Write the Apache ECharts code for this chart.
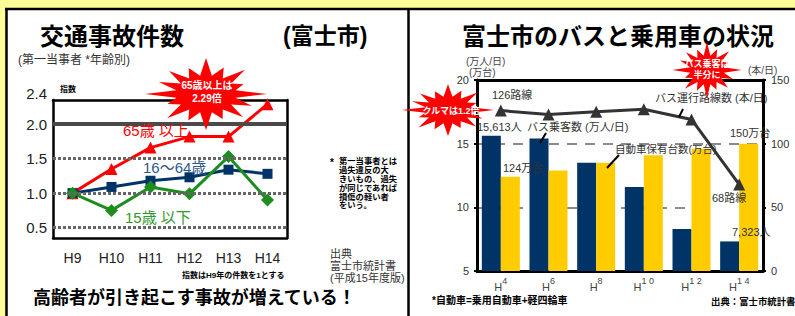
<!DOCTYPE html>
<html>
<head>
<meta charset="utf-8">
<script src="https://cdn.jsdelivr.net/npm/echarts@6.0.0/dist/echarts.min.js"></script>
<style>
html,body{margin:0;padding:0;background:#FFFF99;}
#main{width:795px;height:316px;}
</style>
</head>
<body>
<div id="main"></div>
<script>
var FONT = "'Liberation Sans','Noto Sans CJK JP',sans-serif";

// 交通事故件数 指数 (H9 = 1)
var accYears = ['H9', 'H10', 'H11', 'H12', 'H13', 'H14'];
var over65 = [1.0, 1.35, 1.66, 1.82, 1.82, 2.29];
var age16to64 = [1.0, 1.09, 1.18, 1.23, 1.34, 1.28];
var under15 = [1.0, 0.75, 1.09, 0.99, 1.53, 0.90];
var idxLines = [0.5, 1.0, 1.5, 2.0];

// バスと乗用車
var busYears = ['H4', 'H6', 'H8', 'H10', 'H12', 'H14'];
var busRiders = [15.613, 15.4, 13.5, 11.6, 8.3, 7.323];  // 万人/日
var carCount = [12.4, 12.9, 13.5, 14.1, 14.6, 15.0];     // 10万台
var busRoutes = [126, 123, 125, 127, 119, 68];           // 本/日

function label(x, y, s, size, color, bold, align) {
    return {
        type: 'text', x: x, y: y, z: 50,
        style: {
            text: s, fontSize: size, fontFamily: FONT, fill: color,
            fontWeight: bold ? 'bold' : 'normal',
            textAlign: align || 'left', textVerticalAlign: 'middle'
        }
    };
}

function block(x, y, s, size, color, bold, lh) {
    var t = label(x, y, s, size, color, bold);
    t.style.textVerticalAlign = 'top';
    t.style.lineHeight = lh;
    return t;
}

function line(x1, y1, x2, y2, w, c) {
    return {type: 'line', z: 50, shape: {x1: x1, y1: y1, x2: x2, y2: y2}, style: {stroke: c || '#000', lineWidth: w}};
}

//ギザギザ吹き出し
function burst(cx, cy, rx, ry) {
    var k = [1, 0.8, 0.95, 0.7, 1.05, 0.85, 0.9, 0.75, 1, 0.8, 0.95, 0.72, 1.05, 0.88, 0.9, 0.78];
    var pts = [];
    var n = k.length;
    for (var i = 0; i < n; i++) {
        var a = Math.PI * 2 * i / n - Math.PI / 2;
        var b = a + Math.PI / n;
        pts.push([cx + Math.cos(a) * rx * k[i], cy + Math.sin(a) * ry * k[i]]);
        pts.push([cx + Math.cos(b) * rx * 0.52, cy + Math.sin(b) * ry * 0.52]);
    }
    return {type: 'polygon', z: 60, shape: {points: pts}, style: {fill: '#FF0000'}};
}

function white(t) {
    t.z = 61;
    return t;
}

var graphics = [
    {type: 'rect', z: -10, shape: {x: 6, y: 9, width: 789, height: 307}, style: {fill: '#fff'}},
    line(5, 9, 795, 9, 2.5),
    line(6.5, 9, 6.5, 316, 2.5),
    line(408.5, 9, 408.5, 316, 2.5),

    // 左
    label(40, 36, '交通事故件数', 24, '#000', true),
    label(283, 36, '(富士市)', 23, '#000', true),
    label(18, 60, '(第一当事者 *年齢別)', 12, '#333'),
    label(60, 89, '指数', 8, '#000', true),
    label(123, 130, '65歳 以上', 15, '#FF0000'),
    label(143, 167, '16～64歳', 15, '#2F5A8C'),
    label(125, 217, '15歳 以下', 15, '#2E9A2E'),
    label(330, 162, '*', 10, '#000', true),
    block(339, 157, '第一当事者とは\n過失違反の大\nきいもの、過失\nが同じであれば\n損傷の軽い者\nをいう。', 8.3, '#000', true, 8.8),
    block(330, 248, '出典\n富士市統計書\n(平成15年度版)', 11, '#333', false, 12),
    label(182, 275, '指数はH9年の件数を1とする', 8, '#000', true),
    label(33, 298, '高齢者が引き起こす事故が増えている！', 18, '#000', true),
    burst(206, 94, 58, 36),
    white(label(207, 85, '65歳以上は', 10, '#fff', true, 'center')),
    white(label(207, 98, '2.29倍', 10, '#fff', true, 'center')),

    // 右
    label(462, 36, '富士市のバスと乗用車の状況', 24, '#000', true),
    label(466, 61, '(万人/日)', 10, '#444'),
    label(469, 72, '(万台)', 10, '#444'),
    label(748, 70, '(本/日)', 10, '#444'),
    label(492, 95, '126路線', 11, '#333'),
    label(477, 127, '15,613人', 11, '#333'),
    label(527, 127, 'バス乗客数 (万人/日)', 11, '#333'),
    line(546, 133, 540, 143, 2),
    label(503, 168, '124万台', 11, '#333'),
    label(615, 149, '自動車保有台数(万台)', 10.5, '#333'),
    line(619, 155, 607, 168, 2),
    label(655, 98, 'バス運行路線数 (本/日)', 11, '#333'),
    line(683, 109, 679, 117, 2),
    label(730, 133, '150万台', 11, '#333'),
    {type: 'rect', z: 1, shape: {x: 709, y: 189, width: 31, height: 21}, style: {fill: '#fff'}},
    label(712, 198, '68路線', 11, '#333'),
    label(732, 232, '7,323人', 11, '#333'),
    label(432, 300, '*自動車=乗用自動車+軽四輪車', 10, '#000', true),
    label(711, 301, '出典：富士市統計書', 9.4, '#000', true),
    burst(448, 110, 44, 26),
    white(label(451, 111, 'クルマは1.2倍', 9, '#fff', true, 'center')),
    burst(707, 70, 33, 28),
    white(label(707, 64, 'バス乗客は', 9, '#fff', true, 'center')),
    white(label(707, 75, '半分に', 9, '#fff', true, 'center'))
];

var black = {show: true, lineStyle: {color: '#000', width: 2.5}};

var gridMarks = idxLines.map(function (v) {
    if (v == 2.0) {
        return {yAxis: v, lineStyle: {color: '#4a4a4a', width: 4, type: 'solid'}};
    }
    return {yAxis: v, lineStyle: {color: '#666', width: 3, type: [3, 2]}};
});

var option = {
    animation: false,
    backgroundColor: '#FFFF99',
    graphic: graphics,
    grid: [
        {left: 53, right: 508, top: 100, bottom: 78},
        {left: 477, right: 32, top: 80, bottom: 45}
    ],
    xAxis: [
        {
            gridIndex: 0, type: 'category', data: accYears,
            axisLine: black,
            axisTick: {inside: true, length: 4, lineStyle: {color: '#000', width: 2}},
            axisLabel: {fontSize: 14, color: '#222', margin: 13, fontFamily: FONT, interval: 0}
        },
        {gridIndex: 0, type: 'category', position: 'top', data: accYears, axisLine: black, axisTick: {show: false}, axisLabel: {show: false}},
        {
            gridIndex: 1, type: 'category', data: busYears,
            axisLine: {show: true, lineStyle: {color: '#000', width: 3}},
            axisTick: {inside: true, length: 5, lineStyle: {color: '#000', width: 2}},
            axisLabel: {
                margin: 5, interval: 0,
                formatter: function (v) {
                    return '{h|H}{s|' + v.slice(1).split('').join(' ') + '}';
                },
                rich: {
                    h: {fontSize: 11, color: '#444', fontFamily: FONT, verticalAlign: 'bottom', lineHeight: 16},
                    s: {fontSize: 9, color: '#444', fontFamily: FONT, verticalAlign: 'top', lineHeight: 16}
                }
            }
        },
        {gridIndex: 1, type: 'category', position: 'top', data: busYears, axisLine: {show: true, lineStyle: {color: '#000', width: 3}}, axisTick: {show: false}, axisLabel: {show: false}}
    ],
    yAxis: [
        {
            gridIndex: 0, type: 'value', min: 0.35, max: 2.35, interval: 0.05,
            name: '2.4', nameLocation: 'end', nameGap: 7,
            nameTextStyle: {fontSize: 15, color: '#222', fontFamily: FONT, align: 'right', verticalAlign: 'middle', padding: [0, 6, 0, 0]},
            axisLine: black, axisTick: {show: false}, splitLine: {show: false},
            axisLabel: {
                fontSize: 15, color: '#222', margin: 6, fontFamily: FONT,
                formatter: function (v) {
                    var r = Math.round(v * 100);
                    return r % 50 == 0 ? (r / 100).toFixed(1) : '';
                }
            }
        },
        {gridIndex: 0, type: 'value', position: 'right', min: 0.35, max: 2.35, axisLine: black, axisTick: {show: false}, axisLabel: {show: false}, splitLine: {show: false}},
        {
            gridIndex: 1, type: 'value', min: 5, max: 20, interval: 5,
            axisLine: {show: true, lineStyle: {color: '#000', width: 3}},
            axisTick: {show: true, length: 3, lineStyle: {color: '#000', width: 2}},
            axisLabel: {fontSize: 11, color: '#333', margin: 8, fontFamily: FONT},
            splitLine: {show: true, showMinLine: false, showMaxLine: false, lineStyle: {color: '#8a8a8a', width: 2, type: [10, 8]}}
        },
        {
            gridIndex: 1, type: 'value', position: 'right', min: 0, max: 150, interval: 50,
            axisLine: {show: true, lineStyle: {color: '#000', width: 3}},
            axisTick: {show: true, length: 3, lineStyle: {color: '#000', width: 2}},
            axisLabel: {fontSize: 11, color: '#333', margin: 8, fontFamily: FONT},
            splitLine: {show: false}
        }
    ],
    series: [
        {
            type: 'line', xAxisIndex: 0, yAxisIndex: 0, data: [], z: 1, silent: true,
            markLine: {silent: true, symbol: ['none', 'none'], label: {show: false}, data: gridMarks}
        },
        {
            name: '65歳以上', type: 'line', xAxisIndex: 0, yAxisIndex: 0, data: over65, z: 3,
            color: '#FF0000', lineStyle: {width: 3}, symbol: 'triangle', symbolSize: 12
        },
        {
            name: '16～64歳', type: 'line', xAxisIndex: 0, yAxisIndex: 0, data: age16to64, z: 3,
            color: '#003366', lineStyle: {width: 3}, symbol: 'rect', symbolSize: 10
        },
        {
            name: '15歳以下', type: 'line', xAxisIndex: 0, yAxisIndex: 0, data: under15, z: 3,
            color: '#1E8C1E', lineStyle: {width: 3}, symbol: 'diamond', symbolSize: 13
        },
        {
            name: 'バス乗客数', type: 'bar', xAxisIndex: 2, yAxisIndex: 2, data: busRiders,
            barWidth: 19, barGap: '0%', color: '#003366'
        },
        {
            name: '自動車保有台数', type: 'bar', xAxisIndex: 2, yAxisIndex: 2, data: carCount,
            barWidth: 19, barGap: '0%', color: '#FFCC00'
        },
        {
            name: 'バス運行路線数', type: 'line', xAxisIndex: 2, yAxisIndex: 3, data: busRoutes, z: 3,
            color: '#333', lineStyle: {width: 3}, symbol: 'triangle', symbolSize: 12
        }
    ]
};

var myChart = echarts.init(document.getElementById('main'), null, {renderer: 'svg'});
myChart.setOption(option);
</script>
</body>
</html>
